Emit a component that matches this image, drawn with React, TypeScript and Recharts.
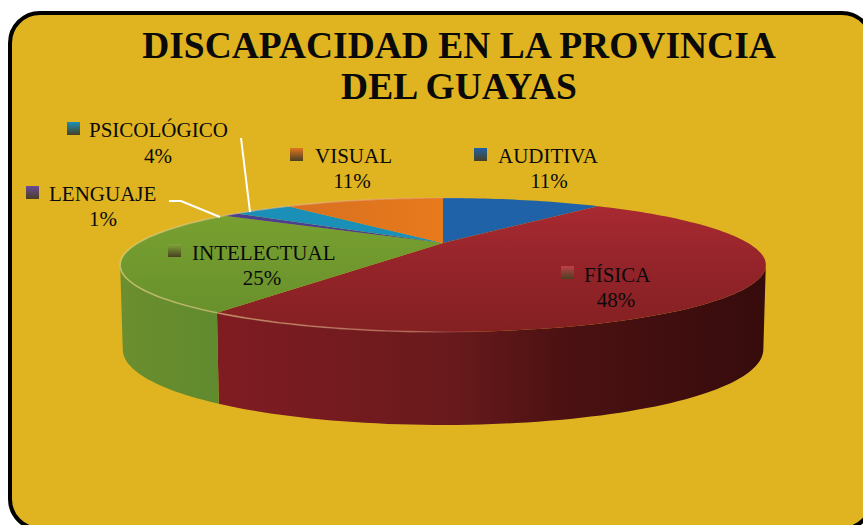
import React from "react";
import { PieChart, Pie } from "recharts";

const CATEGORIES = ["AUDITIVA", "FÍSICA", "INTELECTUAL", "LENGUAJE", "PSICOLÓGICO", "VISUAL"];
const VALUES = [11, 48, 25, 1, 4, 11];
const TITLE_LINES = ["DISCAPACIDAD EN LA PROVINCIA", "DEL GUAYAS"];

const FACE_COLORS = ["#1f62a8", "url(#faceRed)", "url(#faceGreen)", "#4a3f90", "#1a90b8", "url(#faceOrange)"];
const WALL_COLORS = ["#17487c", "url(#wallRed)", "url(#wallGreen)", "#352c68", "#126a88", "#a85816"];
const MARKER_COLORS = ["#1f62a8", "#c0404a", "#7fa83a", "#6a4a9a", "#1a90b8", "#e0751e"];

// where each label sits: marker corner, name start, percent centre, baselines
const LABELS = [
  { mx: 474, my: 148, nx: 498, ny: 163, px: 549, py: 188 },
  { mx: 561, my: 266, nx: 584, ny: 282, px: 616, py: 307 },
  { mx: 168, my: 244, nx: 192, ny: 260, px: 262, py: 285 },
  { mx: 26, my: 186, nx: 49, ny: 201, px: 103, py: 226, leader: "169,201 181,201 220,217" },
  { mx: 67, my: 122, nx: 89, ny: 137, px: 158, py: 163, leader: "241,138 250,212" },
  { mx: 290, my: 148, nx: 315, ny: 163, px: 352, py: 188 },
];

const FONT = "'Liberation Serif', 'Times New Roman', serif";
const CX = 443;
const CY = 243;
const RADIUS = 305;
const TILT = 0.196; // vertical squash of the disc
const PERSPECTIVE = 0.328;

// perspective view of the flat pie: angle in degrees to screen point
function project(angle: number, cx: number, cy: number, r: number, drop = 0) {
  const a = (angle * Math.PI) / 180;
  const c = Math.cos(a);
  const s = -Math.sin(a);
  const w = 1 - PERSPECTIVE * s;
  const shrink = drop ? 0.992 : 1;
  return {
    x: cx + (r * c * shrink) / w,
    y: cy + (r * TILT * s) / w + drop * (80 + 13 * s),
  };
}

function sweepAngles(p: any) {
  const angles = [];
  const n = Math.max(2, Math.ceil(Math.abs(p.endAngle - p.startAngle) / 1.5));
  for (let i = 0; i <= n; i++) angles.push(p.startAngle + ((p.endAngle - p.startAngle) * i) / n);
  return angles;
}

const toPath = (pts: { x: number; y: number }[]) =>
  pts.map((q, i) => `${i ? "L" : "M"}${q.x.toFixed(1)} ${q.y.toFixed(1)}`).join(" ");

function WallShape(props: any) {
  // only the part of the rim between the two widest points can be seen
  const seen = sweepAngles(props).filter((a) => -Math.sin((a * Math.PI) / 180) >= PERSPECTIVE);
  if (seen.length < 2) return null;
  const top = seen.map((a) => project(a, props.cx, props.cy, props.outerRadius));
  const bottom = seen.map((a) => project(a, props.cx, props.cy, props.outerRadius, 1)).reverse();
  return <path d={`${toPath(top)} ${toPath(bottom).replace("M", "L")} Z`} fill={WALL_COLORS[props.index]} stroke="none" />;
}

function FaceShape(props: any) {
  const arc = sweepAngles(props).map((a) => project(a, props.cx, props.cy, props.outerRadius));
  return (
    <g>
      <path d={`M${props.cx} ${props.cy} ${toPath(arc).replace("M", "L")} Z`} fill={FACE_COLORS[props.index]} stroke="none" />
      <path d={toPath(arc)} fill="none" stroke="url(#rim)" strokeWidth={1.6} />
    </g>
  );
}

function SliceLabel(props: any) {
  const i = props.index;
  const l = LABELS[i];
  return (
    <g fontFamily={FONT} fontSize={21} fill="#0a0a0a">
      <rect x={l.mx} y={l.my} width={13} height={13} fill={`url(#marker${i})`} />
      <text x={l.nx} y={l.ny}>{CATEGORIES[i]}</text>
      <text x={l.px} y={l.py} textAnchor="middle">{VALUES[i]}%</text>
      {l.leader ? <polyline points={l.leader} fill="none" stroke="#fff" strokeWidth={2} /> : null}
    </g>
  );
}

export default function App() {
  const data = CATEGORIES.map((name, i) => ({ name, value: VALUES[i] }));
  return (
    <div style={{ position: "absolute", left: 0, top: 0, width: 863, height: 525, overflow: "hidden", background: "#fff" }}>
      <svg width={863} height={525} style={{ position: "absolute", left: 0, top: 0 }}>
        <rect x={10} y={13} width={862} height={516} rx={30} fill="#dfb420" stroke="#000" strokeWidth={4} />
      </svg>
      <div style={{ position: "absolute", left: 0, top: 0 }}>
        <PieChart width={863} height={525} margin={{ top: 0, right: 0, bottom: 0, left: 0 }}>
          <defs>
            <linearGradient id="faceRed" gradientUnits="userSpaceOnUse" x1="0" y1="200" x2="0" y2="332">
              <stop offset="0" stopColor="#aa2a32" />
              <stop offset="0.5" stopColor="#94242a" />
              <stop offset="1" stopColor="#842022" />
            </linearGradient>
            <linearGradient id="faceGreen" gradientUnits="userSpaceOnUse" x1="0" y1="215" x2="0" y2="320">
              <stop offset="0" stopColor="#78a030" />
              <stop offset="1" stopColor="#67902c" />
            </linearGradient>
            <linearGradient id="faceOrange" gradientUnits="userSpaceOnUse" x1="290" y1="0" x2="443" y2="0">
              <stop offset="0" stopColor="#d87020" />
              <stop offset="1" stopColor="#e87a1c" />
            </linearGradient>
            <linearGradient id="wallRed" gradientUnits="userSpaceOnUse" x1="232" y1="0" x2="767" y2="0">
              <stop offset="0" stopColor="#7e1c22" />
              <stop offset="0.4" stopColor="#6a1a1c" />
              <stop offset="0.62" stopColor="#4c1112" />
              <stop offset="1" stopColor="#360b0c" />
            </linearGradient>
            <linearGradient id="wallGreen" gradientUnits="userSpaceOnUse" x1="120" y1="0" x2="232" y2="0">
              <stop offset="0" stopColor="#6c8e2e" />
              <stop offset="1" stopColor="#5e8a2e" />
            </linearGradient>
            <linearGradient id="rim" gradientUnits="userSpaceOnUse" x1="120" y1="0" x2="480" y2="0">
              <stop offset="0" stopColor="#d8d080" stopOpacity="0.7" />
              <stop offset="0.8" stopColor="#e8a8a0" stopOpacity="0.4" />
              <stop offset="1" stopColor="#e8a8a0" stopOpacity="0" />
            </linearGradient>
            {MARKER_COLORS.map((color, i) => (
              <linearGradient key={i} id={`marker${i}`} x1="0" y1="0" x2="0" y2="1">
                <stop offset="0" stopColor={color} />
                <stop offset="1" stopColor="#4a4020" />
              </linearGradient>
            ))}
          </defs>
          <text x={459} y={58} textAnchor="middle" fontFamily={FONT} fontWeight="bold" fontSize={37.5} fill="#0a0a0a">{TITLE_LINES[0]}</text>
          <text x={459} y={99} textAnchor="middle" fontFamily={FONT} fontWeight="bold" fontSize={37.5} fill="#0a0a0a">{TITLE_LINES[1]}</text>
          <Pie
            data={data}
            dataKey="value"
            cx={CX}
            cy={CY}
            outerRadius={RADIUS}
            startAngle={90}
            endAngle={-270}
            paddingAngle={0}
            stroke="none"
            isAnimationActive={false}
            shape={WallShape}
          />
          <Pie
            data={data}
            dataKey="value"
            cx={CX}
            cy={CY}
            outerRadius={RADIUS}
            startAngle={90}
            endAngle={-270}
            paddingAngle={0}
            stroke="none"
            isAnimationActive={false}
            shape={FaceShape}
            label={SliceLabel}
            labelLine={false}
          />
        </PieChart>
      </div>
    </div>
  );
}
